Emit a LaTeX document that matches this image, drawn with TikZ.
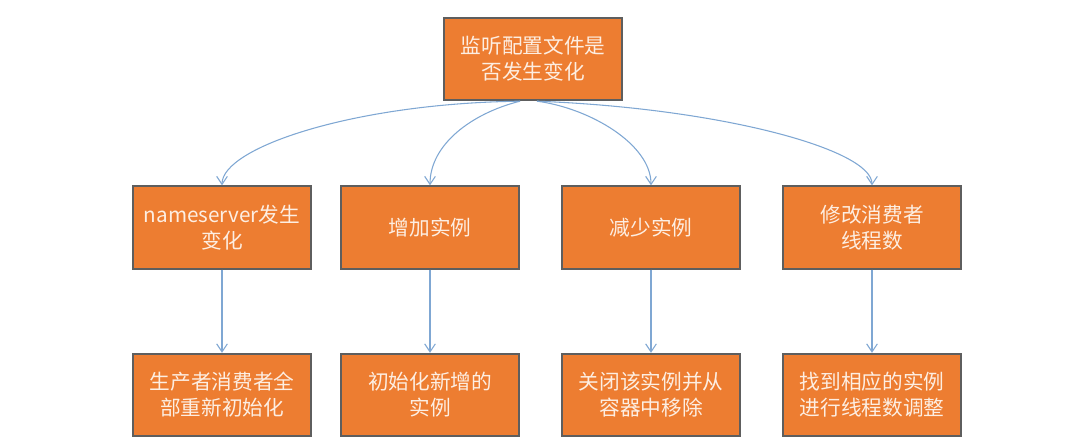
\documentclass[tikz,border=0pt]{standalone}
\usepackage{fontspec}
\newfontfamily\cjk{Noto Sans CJK SC}
\usetikzlibrary{arrows.meta}
\definecolor{boxorange}{HTML}{ED7D31}
\definecolor{boxgray}{HTML}{5E5E5E}
\definecolor{boxtext}{HTML}{FDEEE2}
\definecolor{linkblue}{HTML}{7FA7D3}
\tikzset{
  box/.style={draw=boxgray,line width=1.3pt,fill=boxorange,text=boxtext,
    minimum width=134pt,minimum height=62pt,align=center,inner sep=2pt,
    font=\cjk\fontsize{15.5}{19.5}\selectfont},
  link/.style={draw=linkblue,line width=0.8pt,-{Straight Barb[length=6pt,width=8pt]}}
}
\begin{document}
\begin{tikzpicture}[x=0.75pt,y=-0.75pt]
     % Canvas
     \useasboundingbox (0,0) rectangle (1074,448);
     % Top box
     \node[box] (watch) at (533,59) {监听配置文件是\\否发生变化};
     % Change boxes and action boxes
     \foreach \i/\x/\chg/\act in {
       1/222/{nameserver发生\\变化}/{生产者消费者全\\部重新初始化},
       2/430/{增加实例}/{初始化新增的\\实例},
       3/651/{减少实例}/{关闭该实例并从\\容器中移除},
       4/872/{修改消费者\\线程数}/{找到相应的实例\\进行线程数调整}} {
      \node[box] (chg\i) at (\x,227.5) {\chg};
      \node[box] (act\i) at (\x,395) {\act};
      \draw[link] (chg\i) -- (act\i);
     };
     % Curved links
     \coordinate (outL) at ([xshift=-9.75pt]watch.south);
     \coordinate (outR) at ([xshift=3pt]watch.south);
     \draw[link] (outL) .. controls +(-165,2) and +(0,-38) .. (chg1.north);
     \draw[link] (outL) .. controls +(-48,12) and +(0,-41) .. (chg2.north);
     \draw[link] (outR) .. controls +(53,7) and +(0,-41) .. (chg3.north);
     \draw[link] (outR) .. controls +(183,7) and +(0,-36) .. (chg4.north);
    \end{tikzpicture}
\end{document}
